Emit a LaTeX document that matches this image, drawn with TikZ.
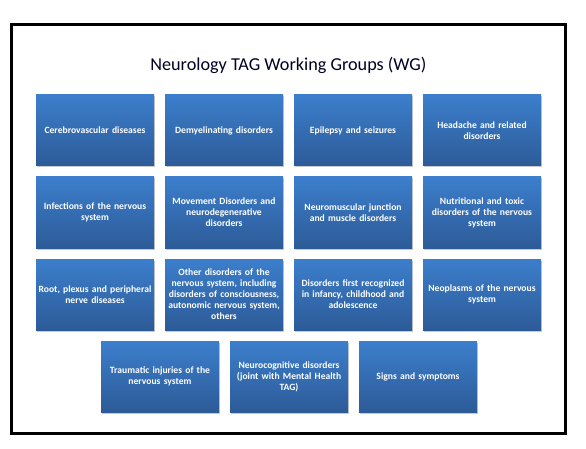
\documentclass[tikz,border=0pt]{standalone}
\usepackage{fontspec}
\setmainfont{Carlito}
\usetikzlibrary{shadows}
\definecolor{boxtop}{HTML}{3C7ECC}
\definecolor{boxbot}{HTML}{2D5B98}
\begin{document}
\begin{tikzpicture}[x=1pt,y=-1pt,
  wg/.style={rectangle, minimum width=118pt, minimum height=71pt, inner sep=0pt,
    top color=boxtop, bottom color=boxbot, draw=none,
    drop shadow={shadow xshift=1.2pt, shadow yshift=-1.5pt, opacity=0.35, fill=black!60},
    text=white, font=\bfseries\fontsize{9.6}{11}\selectfont, align=center, text width=118pt}]
\useasboundingbox (0,0) rectangle (586,449);
\fill[white] (0,0) rectangle (586,449);
\node[draw=black, line width=3pt, minimum width=553.7pt, minimum height=408.7pt, inner sep=0pt] (frame) at (288.3,229.2) {};
\node[font=\fontsize{18.2}{21}\selectfont, anchor=base, text=black!85!blue] (title) at (288.4,70.7) {Neurology TAG Working Groups (WG)};
% row 1
\node[wg] (a1) at (95,130.5) {Cerebrovascular diseases};
\node[wg] (a2) at (224,130.5) {Demyelinating disorders};
\node[wg] (a3) at (353,130.5) {Epilepsy and seizures};
\node[wg] (a4) at (482,130.5) {Headache and related\\disorders};
% row 2
\node[wg] (b1) at (95,212.5) {Infections of the nervous\\system};
\node[wg] (b2) at (224,212.5) {Movement Disorders and\\neurodegenerative\\disorders};
\node[wg] (b3) at (353,212.5) {Neuromuscular junction\\and muscle disorders};
\node[wg] (b4) at (482,212.5) {Nutritional and toxic\\disorders of the nervous\\system};
% row 3
\node[wg] (c1) at (95,294.5) {Root, plexus and peripheral\\nerve diseases};
\node[wg] (c2) at (224,294.5) {Other disorders of the\\nervous system, including\\disorders of consciousness,\\autonomic nervous system,\\others};
\node[wg] (c3) at (353,294.5) {Disorders first recognized\\in infancy, childhood and\\adolescence};
\node[wg] (c4) at (482,294.5) {Neoplasms of the nervous\\system};
% row 4
\node[wg] (d1) at (160,376.5) {Traumatic injuries of the\\nervous system};
\node[wg] (d2) at (289,376.5) {Neurocognitive disorders\\(joint with Mental Health\\TAG)};
\node[wg] (d3) at (418,376.5) {Signs and symptoms};
\end{tikzpicture}
\end{document}
